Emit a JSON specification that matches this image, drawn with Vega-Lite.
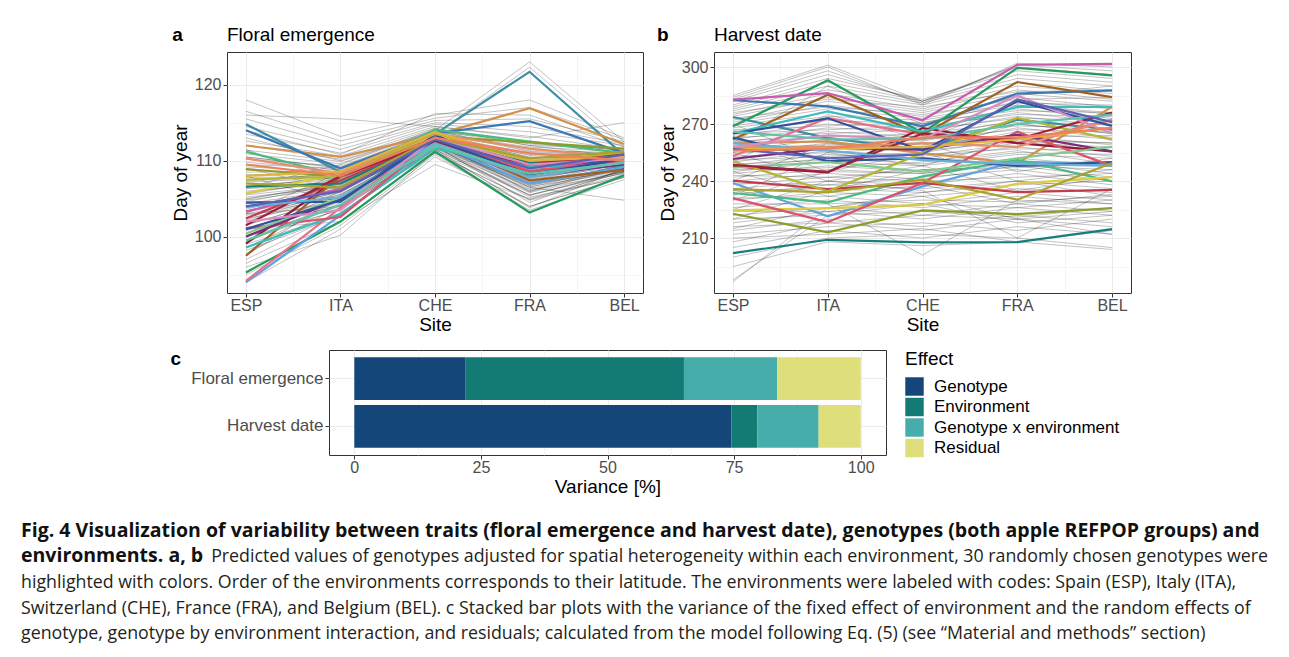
{
  "$schema": "https://vega.github.io/schema/vega-lite/v6.json",
  "description": "Fig. 4: variability between traits, genotypes and environments (apple REFPOP).",
  "padding": {"left": 21, "top": 25, "right": 0, "bottom": 0},
  "datasets": {
    "sites": [
      {"site": "ESP", "pos": 1}, {"site": "ITA", "pos": 2}, {"site": "CHE", "pos": 3},
      {"site": "FRA", "pos": 4}, {"site": "BEL", "pos": 5}
    ],
    "floral_grey": [
      {"g": "g01", "ESP": 95.0, "ITA": 101.5, "CHE": 110.8, "FRA": 103.5, "BEL": 107.5},
      {"g": "g02", "ESP": 96.5, "ITA": 102.0, "CHE": 111.0, "FRA": 104.8, "BEL": 108.0},
      {"g": "g03", "ESP": 97.0, "ITA": 103.2, "CHE": 111.3, "FRA": 104.0, "BEL": 107.9},
      {"g": "g04", "ESP": 98.2, "ITA": 102.8, "CHE": 111.5, "FRA": 105.5, "BEL": 108.4},
      {"g": "g05", "ESP": 97.8, "ITA": 103.9, "CHE": 111.0, "FRA": 104.9, "BEL": 108.2},
      {"g": "g06", "ESP": 99.0, "ITA": 103.0, "CHE": 111.8, "FRA": 105.2, "BEL": 107.8},
      {"g": "g07", "ESP": 98.5, "ITA": 104.5, "CHE": 111.4, "FRA": 105.8, "BEL": 108.6},
      {"g": "g08", "ESP": 99.5, "ITA": 103.6, "CHE": 112.0, "FRA": 104.5, "BEL": 108.9},
      {"g": "g09", "ESP": 100.2, "ITA": 104.0, "CHE": 111.6, "FRA": 106.2, "BEL": 108.3},
      {"g": "g10", "ESP": 99.2, "ITA": 104.8, "CHE": 112.2, "FRA": 106.0, "BEL": 109.0},
      {"g": "g11", "ESP": 100.0, "ITA": 103.5, "CHE": 111.9, "FRA": 105.4, "BEL": 108.7},
      {"g": "g12", "ESP": 100.8, "ITA": 104.2, "CHE": 112.4, "FRA": 106.6, "BEL": 108.5},
      {"g": "g13", "ESP": 101.0, "ITA": 105.0, "CHE": 112.0, "FRA": 105.9, "BEL": 109.2},
      {"g": "g14", "ESP": 100.5, "ITA": 104.6, "CHE": 111.7, "FRA": 106.8, "BEL": 108.8},
      {"g": "g15", "ESP": 101.5, "ITA": 105.3, "CHE": 112.5, "FRA": 106.3, "BEL": 109.1},
      {"g": "g16", "ESP": 101.2, "ITA": 104.1, "CHE": 112.1, "FRA": 107.0, "BEL": 108.6},
      {"g": "g17", "ESP": 102.0, "ITA": 105.6, "CHE": 112.3, "FRA": 106.5, "BEL": 109.4},
      {"g": "g18", "ESP": 101.6, "ITA": 105.0, "CHE": 112.8, "FRA": 107.3, "BEL": 109.0},
      {"g": "g19", "ESP": 102.4, "ITA": 104.7, "CHE": 112.0, "FRA": 106.9, "BEL": 109.3},
      {"g": "g20", "ESP": 102.2, "ITA": 105.8, "CHE": 112.6, "FRA": 107.6, "BEL": 109.6},
      {"g": "g21", "ESP": 102.8, "ITA": 105.2, "CHE": 112.4, "FRA": 107.2, "BEL": 108.9},
      {"g": "g22", "ESP": 102.5, "ITA": 106.0, "CHE": 112.9, "FRA": 106.7, "BEL": 109.5},
      {"g": "g23", "ESP": 103.0, "ITA": 105.5, "CHE": 112.2, "FRA": 107.8, "BEL": 109.2},
      {"g": "g24", "ESP": 103.4, "ITA": 106.2, "CHE": 112.7, "FRA": 107.4, "BEL": 109.8},
      {"g": "g25", "ESP": 103.2, "ITA": 105.9, "CHE": 112.5, "FRA": 108.0, "BEL": 109.4},
      {"g": "g26", "ESP": 103.8, "ITA": 106.4, "CHE": 113.0, "FRA": 107.1, "BEL": 109.7},
      {"g": "g27", "ESP": 104.0, "ITA": 106.0, "CHE": 112.3, "FRA": 108.3, "BEL": 109.5},
      {"g": "g28", "ESP": 103.6, "ITA": 106.7, "CHE": 112.8, "FRA": 107.7, "BEL": 110.0},
      {"g": "g29", "ESP": 104.3, "ITA": 106.3, "CHE": 112.6, "FRA": 108.5, "BEL": 109.3},
      {"g": "g30", "ESP": 104.6, "ITA": 107.0, "CHE": 113.1, "FRA": 107.9, "BEL": 109.9},
      {"g": "g31", "ESP": 104.8, "ITA": 106.5, "CHE": 112.4, "FRA": 108.2, "BEL": 109.6},
      {"g": "g32", "ESP": 105.0, "ITA": 106.9, "CHE": 112.9, "FRA": 108.7, "BEL": 110.1},
      {"g": "g33", "ESP": 105.2, "ITA": 106.6, "CHE": 112.7, "FRA": 108.4, "BEL": 109.7},
      {"g": "g34", "ESP": 104.9, "ITA": 107.2, "CHE": 112.5, "FRA": 108.9, "BEL": 109.4},
      {"g": "g35", "ESP": 105.5, "ITA": 106.8, "CHE": 113.0, "FRA": 108.6, "BEL": 110.0},
      {"g": "g36", "ESP": 105.8, "ITA": 107.4, "CHE": 112.8, "FRA": 109.1, "BEL": 109.8},
      {"g": "g37", "ESP": 106.0, "ITA": 107.0, "CHE": 112.6, "FRA": 108.8, "BEL": 110.2},
      {"g": "g38", "ESP": 105.6, "ITA": 107.6, "CHE": 113.2, "FRA": 109.3, "BEL": 109.9},
      {"g": "g39", "ESP": 106.3, "ITA": 107.2, "CHE": 112.9, "FRA": 109.0, "BEL": 110.1},
      {"g": "g40", "ESP": 106.6, "ITA": 107.8, "CHE": 113.3, "FRA": 109.6, "BEL": 110.4},
      {"g": "g41", "ESP": 106.8, "ITA": 107.5, "CHE": 113.0, "FRA": 109.4, "BEL": 110.0},
      {"g": "g42", "ESP": 106.4, "ITA": 108.0, "CHE": 113.4, "FRA": 109.8, "BEL": 110.3},
      {"g": "g43", "ESP": 107.2, "ITA": 107.7, "CHE": 112.8, "FRA": 109.7, "BEL": 110.5},
      {"g": "g44", "ESP": 107.5, "ITA": 108.2, "CHE": 113.5, "FRA": 110.0, "BEL": 110.2},
      {"g": "g45", "ESP": 107.8, "ITA": 107.9, "CHE": 113.1, "FRA": 110.2, "BEL": 110.6},
      {"g": "g46", "ESP": 107.3, "ITA": 108.4, "CHE": 113.6, "FRA": 109.5, "BEL": 110.4},
      {"g": "g47", "ESP": 108.2, "ITA": 108.1, "CHE": 113.3, "FRA": 110.5, "BEL": 110.3},
      {"g": "g48", "ESP": 108.5, "ITA": 108.6, "CHE": 113.0, "FRA": 110.8, "BEL": 110.8},
      {"g": "g49", "ESP": 108.8, "ITA": 108.3, "CHE": 113.7, "FRA": 110.4, "BEL": 110.6},
      {"g": "g50", "ESP": 108.0, "ITA": 108.9, "CHE": 113.4, "FRA": 111.0, "BEL": 110.9},
      {"g": "g51", "ESP": 109.2, "ITA": 108.5, "CHE": 113.8, "FRA": 111.2, "BEL": 110.7},
      {"g": "g52", "ESP": 109.5, "ITA": 109.0, "CHE": 113.5, "FRA": 110.7, "BEL": 111.0},
      {"g": "g53", "ESP": 109.8, "ITA": 108.8, "CHE": 113.9, "FRA": 111.5, "BEL": 110.8},
      {"g": "g54", "ESP": 110.2, "ITA": 109.3, "CHE": 113.6, "FRA": 111.8, "BEL": 111.2},
      {"g": "g55", "ESP": 110.5, "ITA": 109.1, "CHE": 114.0, "FRA": 111.3, "BEL": 111.1},
      {"g": "g56", "ESP": 110.9, "ITA": 109.6, "CHE": 114.2, "FRA": 112.2, "BEL": 111.4},
      {"g": "g57", "ESP": 111.4, "ITA": 109.9, "CHE": 113.8, "FRA": 112.6, "BEL": 111.3},
      {"g": "g58", "ESP": 112.0, "ITA": 110.2, "CHE": 114.3, "FRA": 112.0, "BEL": 111.6},
      {"g": "g59", "ESP": 112.6, "ITA": 110.6, "CHE": 114.5, "FRA": 113.2, "BEL": 111.5},
      {"g": "g60", "ESP": 113.5, "ITA": 111.0, "CHE": 114.8, "FRA": 113.8, "BEL": 112.0},
      {"g": "g61", "ESP": 114.5, "ITA": 111.5, "CHE": 115.0, "FRA": 114.5, "BEL": 112.2},
      {"g": "g62", "ESP": 115.5, "ITA": 112.0, "CHE": 115.3, "FRA": 115.5, "BEL": 112.5},
      {"g": "g63", "ESP": 116.5, "ITA": 112.6, "CHE": 115.6, "FRA": 117.0, "BEL": 112.8},
      {"g": "g64", "ESP": 118.0, "ITA": 113.2, "CHE": 116.0, "FRA": 118.0, "BEL": 113.0},
      {"g": "g65", "ESP": 116.0, "ITA": 115.5, "CHE": 114.5, "FRA": 113.0, "BEL": 115.0},
      {"g": "g66", "ESP": 113.0, "ITA": 110.0, "CHE": 114.0, "FRA": 123.0, "BEL": 112.5},
      {"g": "g67", "ESP": 110.5, "ITA": 109.0, "CHE": 113.5, "FRA": 122.3, "BEL": 111.8},
      {"g": "g68", "ESP": 103.0, "ITA": 104.0, "CHE": 111.5, "FRA": 103.8, "BEL": 109.0},
      {"g": "g69", "ESP": 104.0, "ITA": 105.0, "CHE": 112.0, "FRA": 106.5, "BEL": 104.8},
      {"g": "g70", "ESP": 101.0, "ITA": 102.0, "CHE": 109.5, "FRA": 105.0, "BEL": 108.5},
      {"g": "g71", "ESP": 94.0, "ITA": 101.0, "CHE": 110.5, "FRA": 104.0, "BEL": 107.8},
      {"g": "g72", "ESP": 96.0, "ITA": 100.2, "CHE": 111.2, "FRA": 105.5, "BEL": 108.6},
      {"g": "g73", "ESP": 114.0, "ITA": 110.8, "CHE": 116.2, "FRA": 116.0, "BEL": 111.8},
      {"g": "g74", "ESP": 100.0, "ITA": 106.0, "CHE": 112.0, "FRA": 107.0, "BEL": 109.2},
      {"g": "g75", "ESP": 108.0, "ITA": 104.5, "CHE": 112.5, "FRA": 106.0, "BEL": 109.5},
      {"g": "g76", "ESP": 111.5, "ITA": 107.0, "CHE": 113.0, "FRA": 108.5, "BEL": 110.0},
      {"g": "g77", "ESP": 103.0, "ITA": 108.5, "CHE": 113.5, "FRA": 110.0, "BEL": 110.5},
      {"g": "g78", "ESP": 97.5, "ITA": 105.5, "CHE": 112.3, "FRA": 107.5, "BEL": 109.0},
      {"g": "g79", "ESP": 109.0, "ITA": 106.2, "CHE": 112.0, "FRA": 107.8, "BEL": 109.6},
      {"g": "g80", "ESP": 106.5, "ITA": 109.5, "CHE": 114.0, "FRA": 112.0, "BEL": 110.5}
    ],
    "floral_hl": [
      {"g": "C01", "ESP": 114.8, "ITA": 108.5, "CHE": 113.5, "FRA": 121.7, "BEL": 110.7},
      {"g": "C02", "ESP": 112.0, "ITA": 110.5, "CHE": 113.4, "FRA": 116.9, "BEL": 112.2},
      {"g": "C03", "ESP": 114.0, "ITA": 109.0, "CHE": 113.6, "FRA": 115.2, "BEL": 111.0},
      {"g": "C04", "ESP": 95.3, "ITA": 102.0, "CHE": 111.2, "FRA": 103.2, "BEL": 108.1},
      {"g": "C05", "ESP": 94.0, "ITA": 102.8, "CHE": 112.3, "FRA": 107.0, "BEL": 109.2},
      {"g": "C06", "ESP": 94.2, "ITA": 103.8, "CHE": 113.0, "FRA": 108.6, "BEL": 109.9},
      {"g": "C07", "ESP": 111.2, "ITA": 108.0, "CHE": 114.1, "FRA": 112.5, "BEL": 111.0},
      {"g": "C08", "ESP": 108.9, "ITA": 107.9, "CHE": 113.2, "FRA": 112.4, "BEL": 111.6},
      {"g": "C09", "ESP": 105.7, "ITA": 108.3, "CHE": 113.4, "FRA": 109.9, "BEL": 110.4},
      {"g": "C10", "ESP": 99.1, "ITA": 107.9, "CHE": 112.7, "FRA": 108.3, "BEL": 110.6},
      {"g": "C11", "ESP": 97.5, "ITA": 108.0, "CHE": 113.0, "FRA": 107.4, "BEL": 108.8},
      {"g": "C12", "ESP": 102.4, "ITA": 107.4, "CHE": 112.7, "FRA": 109.2, "BEL": 110.4},
      {"g": "C13", "ESP": 103.3, "ITA": 106.3, "CHE": 113.0, "FRA": 109.2, "BEL": 110.0},
      {"g": "C14", "ESP": 104.5, "ITA": 104.6, "CHE": 113.4, "FRA": 108.0, "BEL": 110.6},
      {"g": "C15", "ESP": 98.6, "ITA": 103.0, "CHE": 111.6, "FRA": 109.2, "BEL": 109.4},
      {"g": "C16", "ESP": 101.1, "ITA": 102.6, "CHE": 112.7, "FRA": 108.6, "BEL": 110.0},
      {"g": "C17", "ESP": 100.0, "ITA": 105.0, "CHE": 112.5, "FRA": 108.0, "BEL": 109.5},
      {"g": "C18", "ESP": 110.3, "ITA": 108.3, "CHE": 113.5, "FRA": 111.6, "BEL": 110.4},
      {"g": "C19", "ESP": 107.5, "ITA": 107.9, "CHE": 113.7, "FRA": 109.9, "BEL": 111.0},
      {"g": "C20", "ESP": 106.6, "ITA": 107.0, "CHE": 112.7, "FRA": 109.7, "BEL": 110.6},
      {"g": "C21", "ESP": 100.4, "ITA": 105.2, "CHE": 112.3, "FRA": 108.1, "BEL": 109.8},
      {"g": "C22", "ESP": 101.5, "ITA": 108.0, "CHE": 112.5, "FRA": 109.5, "BEL": 110.8},
      {"g": "C23", "ESP": 103.9, "ITA": 105.2, "CHE": 112.3, "FRA": 107.8, "BEL": 109.8},
      {"g": "C24", "ESP": 101.0, "ITA": 104.8, "CHE": 112.8, "FRA": 108.2, "BEL": 110.2},
      {"g": "C25", "ESP": 102.0, "ITA": 103.5, "CHE": 113.0, "FRA": 109.5, "BEL": 110.3},
      {"g": "C26", "ESP": 108.0, "ITA": 108.6, "CHE": 113.8, "FRA": 110.0, "BEL": 110.5},
      {"g": "C27", "ESP": 107.0, "ITA": 106.5, "CHE": 113.0, "FRA": 110.3, "BEL": 111.2},
      {"g": "C28", "ESP": 99.5, "ITA": 104.2, "CHE": 112.0, "FRA": 108.3, "BEL": 109.7},
      {"g": "C29", "ESP": 104.0, "ITA": 106.0, "CHE": 112.8, "FRA": 109.0, "BEL": 110.8},
      {"g": "C30", "ESP": 109.5, "ITA": 108.0, "CHE": 113.0, "FRA": 111.0, "BEL": 110.0}
    ],
    "harvest_grey": [
      {"g": "h01", "ESP": 187, "ITA": 226, "CHE": 232, "FRA": 220, "BEL": 224},
      {"g": "h02", "ESP": 195, "ITA": 208, "CHE": 206, "FRA": 208, "BEL": 204},
      {"g": "h03", "ESP": 200, "ITA": 210, "CHE": 212, "FRA": 210, "BEL": 205},
      {"g": "h04", "ESP": 205, "ITA": 214, "CHE": 210, "FRA": 216, "BEL": 212},
      {"g": "h05", "ESP": 210, "ITA": 212, "CHE": 215, "FRA": 208, "BEL": 214},
      {"g": "h06", "ESP": 208, "ITA": 218, "CHE": 214, "FRA": 220, "BEL": 212},
      {"g": "h07", "ESP": 212, "ITA": 216, "CHE": 218, "FRA": 214, "BEL": 220},
      {"g": "h08", "ESP": 214, "ITA": 220, "CHE": 216, "FRA": 222, "BEL": 218},
      {"g": "h09", "ESP": 216, "ITA": 218, "CHE": 222, "FRA": 220, "BEL": 216},
      {"g": "h10", "ESP": 218, "ITA": 224, "CHE": 220, "FRA": 226, "BEL": 222},
      {"g": "h11", "ESP": 220, "ITA": 222, "CHE": 224, "FRA": 221, "BEL": 226},
      {"g": "h12", "ESP": 222, "ITA": 226, "CHE": 222, "FRA": 228, "BEL": 224},
      {"g": "h13", "ESP": 224, "ITA": 224, "CHE": 228, "FRA": 226, "BEL": 230},
      {"g": "h14", "ESP": 226, "ITA": 230, "CHE": 226, "FRA": 232, "BEL": 228},
      {"g": "h15", "ESP": 228, "ITA": 228, "CHE": 230, "FRA": 229, "BEL": 232},
      {"g": "h16", "ESP": 230, "ITA": 234, "CHE": 232, "FRA": 236, "BEL": 234},
      {"g": "h17", "ESP": 231, "ITA": 232, "CHE": 228, "FRA": 234, "BEL": 230},
      {"g": "h18", "ESP": 233, "ITA": 238, "CHE": 236, "FRA": 240, "BEL": 236},
      {"g": "h19", "ESP": 235, "ITA": 236, "CHE": 234, "FRA": 238, "BEL": 240},
      {"g": "h20", "ESP": 236, "ITA": 240, "CHE": 238, "FRA": 244, "BEL": 238},
      {"g": "h21", "ESP": 238, "ITA": 242, "CHE": 240, "FRA": 242, "BEL": 244},
      {"g": "h22", "ESP": 239, "ITA": 238, "CHE": 242, "FRA": 246, "BEL": 240},
      {"g": "h23", "ESP": 240, "ITA": 244, "CHE": 241, "FRA": 248, "BEL": 246},
      {"g": "h24", "ESP": 242, "ITA": 246, "CHE": 244, "FRA": 250, "BEL": 244},
      {"g": "h25", "ESP": 243, "ITA": 242, "CHE": 246, "FRA": 247, "BEL": 250},
      {"g": "h26", "ESP": 244, "ITA": 248, "CHE": 245, "FRA": 252, "BEL": 248},
      {"g": "h27", "ESP": 245, "ITA": 250, "CHE": 248, "FRA": 254, "BEL": 252},
      {"g": "h28", "ESP": 246, "ITA": 247, "CHE": 250, "FRA": 256, "BEL": 249},
      {"g": "h29", "ESP": 247, "ITA": 252, "CHE": 249, "FRA": 255, "BEL": 254},
      {"g": "h30", "ESP": 248, "ITA": 254, "CHE": 252, "FRA": 258, "BEL": 253},
      {"g": "h31", "ESP": 249, "ITA": 251, "CHE": 254, "FRA": 257, "BEL": 256},
      {"g": "h32", "ESP": 250, "ITA": 256, "CHE": 253, "FRA": 260, "BEL": 258},
      {"g": "h33", "ESP": 251, "ITA": 253, "CHE": 255, "FRA": 262, "BEL": 255},
      {"g": "h34", "ESP": 252, "ITA": 258, "CHE": 256, "FRA": 261, "BEL": 260},
      {"g": "h35", "ESP": 253, "ITA": 255, "CHE": 258, "FRA": 264, "BEL": 259},
      {"g": "h36", "ESP": 254, "ITA": 260, "CHE": 257, "FRA": 266, "BEL": 262},
      {"g": "h37", "ESP": 255, "ITA": 257, "CHE": 260, "FRA": 263, "BEL": 264},
      {"g": "h38", "ESP": 256, "ITA": 262, "CHE": 259, "FRA": 268, "BEL": 263},
      {"g": "h39", "ESP": 257, "ITA": 259, "CHE": 262, "FRA": 267, "BEL": 266},
      {"g": "h40", "ESP": 258, "ITA": 264, "CHE": 261, "FRA": 270, "BEL": 265},
      {"g": "h41", "ESP": 259, "ITA": 261, "CHE": 264, "FRA": 269, "BEL": 268},
      {"g": "h42", "ESP": 260, "ITA": 266, "CHE": 263, "FRA": 272, "BEL": 267},
      {"g": "h43", "ESP": 261, "ITA": 263, "CHE": 265, "FRA": 271, "BEL": 270},
      {"g": "h44", "ESP": 262, "ITA": 268, "CHE": 266, "FRA": 274, "BEL": 269},
      {"g": "h45", "ESP": 263, "ITA": 265, "CHE": 267, "FRA": 273, "BEL": 272},
      {"g": "h46", "ESP": 264, "ITA": 270, "CHE": 268, "FRA": 276, "BEL": 271},
      {"g": "h47", "ESP": 265, "ITA": 267, "CHE": 269, "FRA": 275, "BEL": 274},
      {"g": "h48", "ESP": 266, "ITA": 272, "CHE": 270, "FRA": 278, "BEL": 273},
      {"g": "h49", "ESP": 267, "ITA": 269, "CHE": 271, "FRA": 277, "BEL": 276},
      {"g": "h50", "ESP": 268, "ITA": 274, "CHE": 272, "FRA": 280, "BEL": 275},
      {"g": "h51", "ESP": 269, "ITA": 276, "CHE": 270, "FRA": 282, "BEL": 278},
      {"g": "h52", "ESP": 270, "ITA": 278, "CHE": 273, "FRA": 281, "BEL": 280},
      {"g": "h53", "ESP": 271, "ITA": 280, "CHE": 274, "FRA": 284, "BEL": 279},
      {"g": "h54", "ESP": 272, "ITA": 282, "CHE": 276, "FRA": 286, "BEL": 282},
      {"g": "h55", "ESP": 273, "ITA": 279, "CHE": 275, "FRA": 283, "BEL": 284},
      {"g": "h56", "ESP": 274, "ITA": 284, "CHE": 277, "FRA": 288, "BEL": 283},
      {"g": "h57", "ESP": 275, "ITA": 286, "CHE": 278, "FRA": 290, "BEL": 286},
      {"g": "h58", "ESP": 276, "ITA": 283, "CHE": 279, "FRA": 287, "BEL": 288},
      {"g": "h59", "ESP": 277, "ITA": 288, "CHE": 280, "FRA": 292, "BEL": 287},
      {"g": "h60", "ESP": 278, "ITA": 290, "CHE": 281, "FRA": 294, "BEL": 290},
      {"g": "h61", "ESP": 279, "ITA": 292, "CHE": 282, "FRA": 296, "BEL": 292},
      {"g": "h62", "ESP": 280, "ITA": 294, "CHE": 283, "FRA": 298, "BEL": 294},
      {"g": "h63", "ESP": 282, "ITA": 296, "CHE": 282, "FRA": 300, "BEL": 296},
      {"g": "h64", "ESP": 283, "ITA": 298, "CHE": 281, "FRA": 301, "BEL": 298},
      {"g": "h65", "ESP": 284, "ITA": 300, "CHE": 280, "FRA": 302, "BEL": 300},
      {"g": "h66", "ESP": 285, "ITA": 301, "CHE": 282, "FRA": 301, "BEL": 301},
      {"g": "h67", "ESP": 260, "ITA": 290, "CHE": 270, "FRA": 285, "BEL": 290},
      {"g": "h68", "ESP": 250, "ITA": 275, "CHE": 262, "FRA": 280, "BEL": 276},
      {"g": "h69", "ESP": 240, "ITA": 260, "CHE": 255, "FRA": 270, "BEL": 265},
      {"g": "h70", "ESP": 230, "ITA": 245, "CHE": 244, "FRA": 250, "BEL": 250},
      {"g": "h71", "ESP": 225, "ITA": 240, "CHE": 235, "FRA": 210, "BEL": 236},
      {"g": "h72", "ESP": 235, "ITA": 228, "CHE": 201, "FRA": 230, "BEL": 228},
      {"g": "h73", "ESP": 270, "ITA": 250, "CHE": 260, "FRA": 245, "BEL": 252},
      {"g": "h74", "ESP": 262, "ITA": 245, "CHE": 255, "FRA": 240, "BEL": 246},
      {"g": "h75", "ESP": 255, "ITA": 240, "CHE": 248, "FRA": 235, "BEL": 242},
      {"g": "h76", "ESP": 245, "ITA": 232, "CHE": 238, "FRA": 228, "BEL": 233},
      {"g": "h77", "ESP": 215, "ITA": 226, "CHE": 234, "FRA": 240, "BEL": 232},
      {"g": "h78", "ESP": 220, "ITA": 235, "CHE": 246, "FRA": 248, "BEL": 242},
      {"g": "h79", "ESP": 188, "ITA": 222, "CHE": 228, "FRA": 218, "BEL": 222},
      {"g": "h80", "ESP": 232, "ITA": 255, "CHE": 248, "FRA": 262, "BEL": 260}
    ],
    "harvest_hl": [
      {"g": "C01", "ESP": 273.7, "ITA": 262.6, "CHE": 256.5, "FRA": 272.3, "BEL": 267.0},
      {"g": "C02", "ESP": 260.0, "ITA": 260.9, "CHE": 254.7, "FRA": 249.5, "BEL": 279.0},
      {"g": "C03", "ESP": 282.5, "ITA": 279.3, "CHE": 268.8, "FRA": 286.0, "BEL": 287.7},
      {"g": "C04", "ESP": 268.8, "ITA": 293.0, "CHE": 265.3, "FRA": 299.5, "BEL": 295.6},
      {"g": "C05", "ESP": 239.0, "ITA": 221.4, "CHE": 237.2, "FRA": 250.4, "BEL": 248.2},
      {"g": "C06", "ESP": 253.0, "ITA": 273.2, "CHE": 264.4, "FRA": 260.0, "BEL": 272.3},
      {"g": "C07", "ESP": 233.7, "ITA": 228.8, "CHE": 242.5, "FRA": 251.2, "BEL": 239.8},
      {"g": "C08", "ESP": 222.8, "ITA": 213.0, "CHE": 224.6, "FRA": 222.6, "BEL": 225.8},
      {"g": "C09", "ESP": 224.6, "ITA": 225.8, "CHE": 227.5, "FRA": 238.6, "BEL": 242.1},
      {"g": "C10", "ESP": 247.7, "ITA": 244.6, "CHE": 267.9, "FRA": 260.0, "BEL": 255.6},
      {"g": "C11", "ESP": 261.8, "ITA": 285.4, "CHE": 264.4, "FRA": 292.1, "BEL": 284.2},
      {"g": "C12", "ESP": 240.2, "ITA": 235.8, "CHE": 239.0, "FRA": 234.2, "BEL": 235.4},
      {"g": "C13", "ESP": 282.8, "ITA": 286.3, "CHE": 272.0, "FRA": 301.2, "BEL": 301.6},
      {"g": "C14", "ESP": 263.0, "ITA": 250.5, "CHE": 252.0, "FRA": 248.0, "BEL": 250.0},
      {"g": "C15", "ESP": 265.0, "ITA": 276.7, "CHE": 266.0, "FRA": 279.0, "BEL": 279.0},
      {"g": "C16", "ESP": 231.0, "ITA": 218.4, "CHE": 239.0, "FRA": 266.0, "BEL": 248.0},
      {"g": "C17", "ESP": 251.6, "ITA": 257.4, "CHE": 256.5, "FRA": 264.4, "BEL": 255.6},
      {"g": "C18", "ESP": 258.0, "ITA": 258.0, "CHE": 260.0, "FRA": 258.0, "BEL": 272.3},
      {"g": "C19", "ESP": 250.4, "ITA": 234.6, "CHE": 254.7, "FRA": 273.2, "BEL": 261.8},
      {"g": "C20", "ESP": 202.1, "ITA": 209.1, "CHE": 207.7, "FRA": 207.9, "BEL": 214.7},
      {"g": "C21", "ESP": 247.0, "ITA": 250.0, "CHE": 245.0, "FRA": 252.0, "BEL": 258.0},
      {"g": "C22", "ESP": 248.5, "ITA": 244.8, "CHE": 265.0, "FRA": 262.0, "BEL": 276.0},
      {"g": "C23", "ESP": 260.0, "ITA": 256.0, "CHE": 251.0, "FRA": 249.0, "BEL": 248.0},
      {"g": "C24", "ESP": 265.0, "ITA": 273.0, "CHE": 256.0, "FRA": 282.0, "BEL": 269.0},
      {"g": "C25", "ESP": 258.0, "ITA": 264.0, "CHE": 262.0, "FRA": 285.0, "BEL": 265.0},
      {"g": "C26", "ESP": 257.0, "ITA": 257.0, "CHE": 258.0, "FRA": 262.0, "BEL": 268.0},
      {"g": "C27", "ESP": 235.8, "ITA": 234.0, "CHE": 240.7, "FRA": 230.2, "BEL": 249.5},
      {"g": "C28", "ESP": 266.0, "ITA": 262.0, "CHE": 262.0, "FRA": 270.0, "BEL": 275.0},
      {"g": "C29", "ESP": 257.0, "ITA": 252.0, "CHE": 254.0, "FRA": 283.0, "BEL": 271.0},
      {"g": "C30", "ESP": 256.0, "ITA": 257.0, "CHE": 263.0, "FRA": 263.0, "BEL": 268.0}
    ],
    "variance": [
      {"trait": "Floral emergence", "effect": "Genotype", "o": 1, "pct": 22.0},
      {"trait": "Floral emergence", "effect": "Environment", "o": 2, "pct": 43.1},
      {"trait": "Floral emergence", "effect": "Genotype x environment", "o": 3, "pct": 18.4},
      {"trait": "Floral emergence", "effect": "Residual", "o": 4, "pct": 16.5},
      {"trait": "Harvest date", "effect": "Genotype", "o": 1, "pct": 74.5},
      {"trait": "Harvest date", "effect": "Environment", "o": 2, "pct": 5.1},
      {"trait": "Harvest date", "effect": "Genotype x environment", "o": 3, "pct": 12.1},
      {"trait": "Harvest date", "effect": "Residual", "o": 4, "pct": 8.3}
    ],
    "caption": [
      {"line": 1, "side": "left", "weight": "bold", "text": "Fig. 4 Visualization of variability between traits (floral emergence and harvest date), genotypes (both apple REFPOP groups) and"},
      {"line": 2, "side": "left", "weight": "bold", "text": "environments. a, b"},
      {"line": 2, "side": "right", "weight": "normal", "text": "Predicted values of genotypes adjusted for spatial heterogeneity within each environment, 30 randomly chosen genotypes were"},
      {"line": 3, "side": "left", "weight": "normal", "text": "highlighted with colors. Order of the environments corresponds to their latitude. The environments were labeled with codes: Spain (ESP), Italy (ITA),"},
      {"line": 4, "side": "left", "weight": "normal", "text": "Switzerland (CHE), France (FRA), and Belgium (BEL). c Stacked bar plots with the variance of the fixed effect of environment and the random effects of"},
      {"line": 5, "side": "left", "weight": "normal", "text": "genotype, genotype by environment interaction, and residuals; calculated from the model following Eq. (5) (see “Material and methods” section)"}
    ]
  },
  "spacing": 23,
  "resolve": {"scale": {"color": "independent"}, "legend": {"color": "independent"}},
  "vconcat": [
    {
      "spacing": 14,
      "resolve": {"scale": {"color": "independent"}, "legend": {"color": "independent"}},
      "vconcat": [
        {
          "spacing": 13,
          "hconcat": [
            {"width": 136, "height": 10, "view": {"stroke": null}, "data": {"values": []}, "mark": "point"},
            {
              "title": {"text": "a", "orient": "left", "anchor": "end", "frame": "bounds", "angle": 0, "align": "right", "baseline": "top", "fontWeight": "bold", "offset": -22.5},
              "vconcat": [
                {
                  "width": 416,
                  "height": 241,
                  "title": {"text": "Floral emergence", "frame": "group", "anchor": "start", "baseline": "bottom", "offset": -12},
                  "encoding": {
                    "x": {
                      "field": "pos", "type": "quantitative",
                      "scale": {"domain": [0.8, 5.2], "nice": false, "zero": false},
                      "axis": {
                        "title": "Site",
                        "values": [1, 1.5, 2, 2.5, 3, 3.5, 4, 4.5, 5],
                        "labelExpr": "datum.value % 1 == 0 ? ['ESP','ITA','CHE','FRA','BEL'][datum.value - 1] : ''",
                        "tickOpacity": {"condition": {"test": "datum.value % 1 != 0", "value": 0}, "value": 1},
                        "gridWidth": {"condition": {"test": "datum.value % 1 != 0", "value": 0.5}, "value": 1}
                      }
                    },
                    "y": {
                      "field": "doy", "type": "quantitative",
                      "scale": {"domain": [92.6, 124.3], "nice": false, "zero": false},
                      "axis": {
                        "title": "Day of year",
                        "values": [95, 100, 105, 110, 115, 120],
                        "labelExpr": "datum.value % 10 == 0 ? datum.label : ''",
                        "tickOpacity": {"condition": {"test": "datum.value % 10 != 0", "value": 0}, "value": 1},
                        "gridWidth": {"condition": {"test": "datum.value % 10 != 0", "value": 0.5}, "value": 1}
                      }
                    },
                    "detail": {"field": "g", "type": "nominal"}
                  },
                  "layer": [
                    {
                      "data": {"name": "floral_grey"},
                      "transform": [
                        {"fold": ["ESP", "ITA", "CHE", "FRA", "BEL"], "as": ["site", "doy"]},
                        {"lookup": "site", "from": {"data": {"name": "sites"}, "key": "site", "fields": ["pos"]}}
                      ],
                      "mark": {"type": "line", "color": "#000000", "opacity": 0.3, "strokeWidth": 0.8}
                    },
                    {
                      "data": {"name": "floral_hl"},
                      "transform": [
                        {"fold": ["ESP", "ITA", "CHE", "FRA", "BEL"], "as": ["site", "doy"]},
                        {"lookup": "site", "from": {"data": {"name": "sites"}, "key": "site", "fields": ["pos"]}}
                      ],
                      "mark": {"type": "line", "strokeWidth": 2.2},
                      "encoding": {
                        "color": {
                          "field": "g", "type": "nominal", "legend": null,
                          "scale": {
                            "domain": ["C01","C02","C03","C04","C05","C06","C07","C08","C09","C10","C11","C12","C13","C14","C15","C16","C17","C18","C19","C20","C21","C22","C23","C24","C25","C26","C27","C28","C29","C30"],
                            "range": ["#3B8EA5","#D3914D","#3C78B4","#239B5C","#5EA3E2","#EC6F88","#48BC80","#8E9C2C","#DCCB45","#8E1B33","#A0601F","#C23B4E","#C95BB0","#2F5597","#3DBDB9","#D9536B","#7A2E7E","#E3906C","#B3B535","#177E7D","#7FCB8F","#A1213F","#6BAED6","#31519E","#D88FC0","#E1B23F","#A9A22E","#5FC4A9","#5A62B4","#EF7F5E"]
                          }
                        }
                      }
                    }
                  ]
                }
              ]
            },
            {
              "title": {"text": "b", "orient": "left", "anchor": "end", "frame": "bounds", "angle": 0, "align": "right", "baseline": "top", "fontWeight": "bold", "offset": -22.5},
              "vconcat": [
                {
                  "width": 417,
                  "height": 241,
                  "title": {"text": "Harvest date", "frame": "group", "anchor": "start", "baseline": "bottom", "offset": -12},
                  "encoding": {
                    "x": {
                      "field": "pos", "type": "quantitative",
                      "scale": {"domain": [0.8, 5.2], "nice": false, "zero": false},
                      "axis": {
                        "title": "Site",
                        "values": [1, 1.5, 2, 2.5, 3, 3.5, 4, 4.5, 5],
                        "labelExpr": "datum.value % 1 == 0 ? ['ESP','ITA','CHE','FRA','BEL'][datum.value - 1] : ''",
                        "tickOpacity": {"condition": {"test": "datum.value % 1 != 0", "value": 0}, "value": 1},
                        "gridWidth": {"condition": {"test": "datum.value % 1 != 0", "value": 0.5}, "value": 1}
                      }
                    },
                    "y": {
                      "field": "doy", "type": "quantitative",
                      "scale": {"domain": [181.1, 307.9], "nice": false, "zero": false},
                      "axis": {
                        "title": "Day of year",
                        "values": [195, 210, 225, 240, 255, 270, 285, 300],
                        "labelExpr": "datum.value % 30 == 0 ? datum.label : ''",
                        "tickOpacity": {"condition": {"test": "datum.value % 30 != 0", "value": 0}, "value": 1},
                        "gridWidth": {"condition": {"test": "datum.value % 30 != 0", "value": 0.5}, "value": 1}
                      }
                    },
                    "detail": {"field": "g", "type": "nominal"}
                  },
                  "layer": [
                    {
                      "data": {"name": "harvest_grey"},
                      "transform": [
                        {"fold": ["ESP", "ITA", "CHE", "FRA", "BEL"], "as": ["site", "doy"]},
                        {"lookup": "site", "from": {"data": {"name": "sites"}, "key": "site", "fields": ["pos"]}}
                      ],
                      "mark": {"type": "line", "color": "#000000", "opacity": 0.3, "strokeWidth": 0.8}
                    },
                    {
                      "data": {"name": "harvest_hl"},
                      "transform": [
                        {"fold": ["ESP", "ITA", "CHE", "FRA", "BEL"], "as": ["site", "doy"]},
                        {"lookup": "site", "from": {"data": {"name": "sites"}, "key": "site", "fields": ["pos"]}}
                      ],
                      "mark": {"type": "line", "strokeWidth": 2.2},
                      "encoding": {
                        "color": {
                          "field": "g", "type": "nominal", "legend": null,
                          "scale": {
                            "domain": ["C01","C02","C03","C04","C05","C06","C07","C08","C09","C10","C11","C12","C13","C14","C15","C16","C17","C18","C19","C20","C21","C22","C23","C24","C25","C26","C27","C28","C29","C30"],
                            "range": ["#3B8EA5","#D3914D","#3C78B4","#239B5C","#5EA3E2","#EC6F88","#48BC80","#8E9C2C","#DCCB45","#8E1B33","#A0601F","#C23B4E","#C95BB0","#2F5597","#3DBDB9","#D9536B","#7A2E7E","#E3906C","#B3B535","#177E7D","#7FCB8F","#A1213F","#6BAED6","#31519E","#D88FC0","#E1B23F","#A9A22E","#5FC4A9","#5A62B4","#EF7F5E"]
                          }
                        }
                      }
                    }
                  ]
                }
              ]
            }
          ]
        },
        {
          "spacing": 0,
          "resolve": {"scale": {"color": "independent"}, "legend": {"color": "independent"}},
          "hconcat": [
            {"width": 149, "height": 10, "view": {"stroke": null}, "data": {"values": []}, "mark": "point"},
            {
              "width": 557,
              "height": 105,
              "title": {"text": "c", "orient": "left", "anchor": "end", "frame": "group", "angle": 0, "align": "right", "baseline": "alphabetic", "fontWeight": "bold", "offset": -1, "dy": 15},
              "data": {"name": "variance"},
              "mark": {"type": "bar"},
              "encoding": {
                "y": {
                  "field": "trait", "type": "nominal",
                  "sort": ["Floral emergence", "Harvest date"],
                  "scale": {"paddingInner": 0.1, "paddingOuter": 0.15},
                  "axis": {"title": null, "grid": true, "bandPosition": 0.5, "labelFontSize": 17}
                },
                "x": {
                  "field": "pct", "type": "quantitative", "stack": "zero",
                  "scale": {"domain": [-5, 105], "nice": false, "zero": false},
                  "axis": {
                    "title": "Variance [%]",
                    "values": [0, 12.5, 25, 37.5, 50, 62.5, 75, 87.5, 100],
                    "labelExpr": "datum.value % 25 == 0 ? datum.label : ''",
                    "tickOpacity": {"condition": {"test": "datum.value % 25 != 0", "value": 0}, "value": 1},
                    "gridWidth": {"condition": {"test": "datum.value % 25 != 0", "value": 0.5}, "value": 1}
                  }
                },
                "color": {
                  "field": "effect", "type": "nominal",
                  "scale": {
                    "domain": ["Genotype", "Environment", "Genotype x environment", "Residual"],
                    "range": ["#14467A", "#137A74", "#46ADAB", "#DEDE7B"]
                  },
                  "legend": {"title": "Effect", "orient": "right", "offset": 19, "labelLimit": 320}
                },
                "order": {"field": "o", "type": "quantitative"}
              }
            }
          ]
        }
      ]
    },
    {
      "width": 1247,
      "height": 128,
      "view": {"stroke": null},
      "data": {"name": "caption"},
      "encoding": {
        "y": {"field": "line", "type": "ordinal", "scale": {"type": "point", "padding": 0.5}, "axis": null},
        "text": {"field": "text", "type": "nominal"}
      },
      "layer": [
        {
          "transform": [{"filter": "datum.side == 'left' && datum.weight == 'bold'"}],
          "mark": {"type": "text", "align": "left", "baseline": "alphabetic", "font": "Open Sans", "fontSize": 19.5, "fontWeight": "bold", "color": "#111111"},
          "encoding": {"x": {"value": 0}}
        },
        {
          "transform": [{"filter": "datum.side == 'left' && datum.weight == 'normal'"}],
          "mark": {"type": "text", "align": "left", "baseline": "alphabetic", "font": "Open Sans", "fontSize": 17.8, "color": "#231F20"},
          "encoding": {"x": {"value": 0}}
        },
        {
          "transform": [{"filter": "datum.side == 'right'"}],
          "mark": {"type": "text", "align": "right", "baseline": "alphabetic", "font": "Open Sans", "fontSize": 17.8, "color": "#231F20"},
          "encoding": {"x": {"value": "width"}}
        }
      ]
    }
  ],
  "config": {
    "view": {"stroke": "#333333", "strokeWidth": 1},
    "title": {"font": "Liberation Sans", "fontSize": 19, "fontWeight": "normal", "color": "#000000"},
    "axis": {
      "domain": false,
      "tickColor": "#333333",
      "tickSize": 4,
      "labelColor": "#4D4D4D",
      "labelFont": "Liberation Sans",
      "labelFontSize": 16,
      "labelPadding": 2,
      "labelOverlap": false,
      "labelFlush": false,
      "titleFont": "Liberation Sans",
      "titleFontSize": 19,
      "titleFontWeight": "normal",
      "titleColor": "#000000",
      "titlePadding": 4,
      "gridColor": "#EBEBEB"
    },
    "axisX": {"labelPadding": 0, "titlePadding": 2},
    "legend": {
      "symbolType": "square",
      "symbolSize": 340,
      "symbolStrokeWidth": 0,
      "symbolOpacity": 1,
      "labelFont": "Liberation Sans",
      "labelFontSize": 17,
      "labelColor": "#000000",
      "labelOffset": 10,
      "titleFont": "Liberation Sans",
      "titleFontSize": 19,
      "titleFontWeight": "normal",
      "titleColor": "#000000",
      "titlePadding": 8,
      "rowPadding": 1.5
    }
  }
}
